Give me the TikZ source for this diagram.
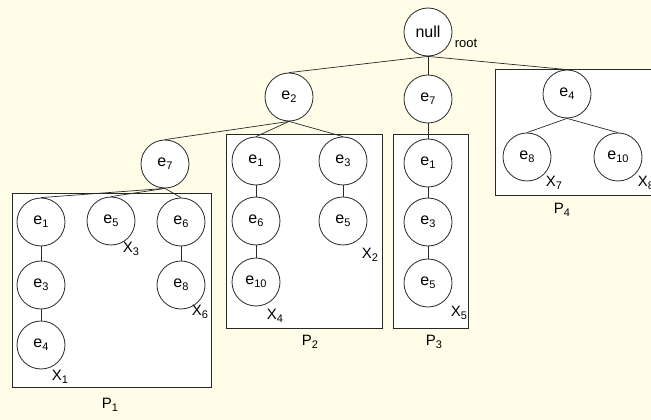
\documentclass[tikz,border=0pt]{standalone}
\usepackage{fontspec}
\setmainfont{Liberation Sans}
\newcommand{\lowsub}[1]{\raisebox{-0.35ex}{\fontsize{11}{11}\selectfont #1}}
\definecolor{bgyellow}{RGB}{255,252,232}
\definecolor{linegray}{RGB}{40,40,40}
\tikzset{
  el/.style={circle,draw=linegray,fill=white,line width=0.8pt,minimum size=48pt,inner sep=0pt,font=\fontsize{16}{18}\selectfont},
  lbl/.style={inner sep=0pt,font=\fontsize{15}{17}\selectfont},
  part/.style={draw=linegray,fill=white,line width=0.8pt},
  edge/.style={draw=linegray,line width=0.7pt}
}
\begin{document}
\begin{tikzpicture}[x=1pt,y=-1pt]
\fill[bgyellow] (0,0) rectangle (651,420);
\useasboundingbox (0,0) rectangle (651,420);
\clip (0,0) rectangle (651,420);
% partition boxes
\draw[part] (12,193) rectangle (211,387);
\draw[part] (226,134) rectangle (382,328);
\draw[part] (393,134) rectangle (468,328);
\draw[part] (495,69) rectangle (665,195);
% nodes
\node[el] (root) at (428,32) {null};
\node[lbl,font=\fontsize{13}{15}\selectfont] (rootl) at (466,43) {root};
\node[el] (e2) at (289,97) {e\lowsub{2}};
\node[el] (e7m) at (428,99) {e\lowsub{7}};
\node[el] (e4r) at (567,94) {e\lowsub{4}};
\node[el] (e7l) at (165,164) {e\lowsub{7}};
% P1
\node[el] (a1) at (41,222) {e\lowsub{1}};
\node[el] (a3) at (41,285) {e\lowsub{3}};
\node[el] (a4) at (41,345) {e\lowsub{4}};
\node[el] (a5) at (111,221) {e\lowsub{5}};
\node[el] (a6) at (181,222) {e\lowsub{6}};
\node[el] (a8) at (181,285) {e\lowsub{8}};
% P2
\node[el] (b1) at (256,161) {e\lowsub{1}};
\node[el] (b6) at (256,221) {e\lowsub{6}};
\node[el] (b10) at (256,282) {e\lowsub{10}};
\node[el] (b3) at (343,161) {e\lowsub{3}};
\node[el] (b5) at (343,221) {e\lowsub{5}};
% P3
\node[el] (c1) at (428,163) {e\lowsub{1}};
\node[el] (c3) at (428,222) {e\lowsub{3}};
\node[el] (c5) at (428,283) {e\lowsub{5}};
% P4
\node[el] (d8) at (527,157) {e\lowsub{8}};
\node[el] (d10) at (618,157) {e\lowsub{10}};
% labels
\node[lbl] (x1) at (60,377) {X\lowsub{1}};
\node[lbl] (x2) at (370,255) {X\lowsub{2}};
\node[lbl] (x3) at (131,249) {X\lowsub{3}};
\node[lbl] (x4) at (275,316) {X\lowsub{4}};
\node[lbl] (x5) at (459,313) {X\lowsub{5}};
\node[lbl] (x6) at (200,312) {X\lowsub{6}};
\node[lbl] (x7) at (554,183) {X\lowsub{7}};
\node[lbl] (x8) at (646,183) {X\lowsub{8}};
\node[lbl] (p1) at (110,405) {P\lowsub{1}};
\node[lbl] (p2) at (310,342) {P\lowsub{2}};
\node[lbl] (p3) at (434,342) {P\lowsub{3}};
\node[lbl] (p4) at (562,210) {P\lowsub{4}};
% edges
\draw[edge] (root.south) -- (e2.north);
\draw[edge] (root.south) -- (e7m.north);
\draw[edge] (root.south) -- (e4r.north);
\draw[edge] (e2.south) -- (e7l.north);
\draw[edge] (e2.south) -- (b1.north);
\draw[edge] (e2.south) -- (b3.north);
\draw[edge] (e7m.south) -- (c1.north);
\draw[edge] (e4r.south) -- (d8.north);
\draw[edge] (e4r.south) -- (d10.north);
\draw[edge] (e7l.south) -- (a1.north);
\draw[edge] (e7l.south) -- (a5.north);
\draw[edge] (e7l.south) -- (a6.north);
\draw[edge] (a1.south) -- (a3.north);
\draw[edge] (a3.south) -- (a4.north);
\draw[edge] (a6.south) -- (a8.north);
\draw[edge] (b1.south) -- (b6.north);
\draw[edge] (b6.south) -- (b10.north);
\draw[edge] (b3.south) -- (b5.north);
\draw[edge] (c1.south) -- (c3.north);
\draw[edge] (c3.south) -- (c5.north);
\end{tikzpicture}
\end{document}
